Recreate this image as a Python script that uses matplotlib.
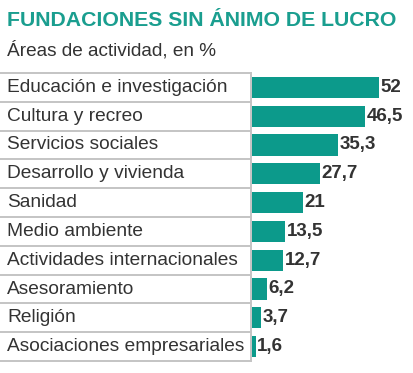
import matplotlib.pyplot as plt
from matplotlib.transforms import blended_transform_factory

categorias = ['Educación e investigación', 'Cultura y recreo', 'Servicios sociales',
              'Desarrollo y vivienda', 'Sanidad', 'Medio ambiente',
              'Actividades internacionales', 'Asesoramiento', 'Religión',
              'Asociaciones empresariales']
valores = [52, 46.5, 35.3, 27.7, 21, 13.5, 12.7, 6.2, 3.7, 1.6]
etiquetas = ['52', '46,5', '35,3', '27,7', '21', '13,5', '12,7', '6,2', '3,7', '1,6']

plt.rcParams['font.family'] = ['Liberation Sans', 'DejaVu Sans']

W, H = 414, 373
fig = plt.figure(figsize=(W / 100, H / 100), dpi=100)
ax = fig.add_axes([252 / W, (H - 361) / H, (W - 252) / W, (361 - 73) / H])

teal = '#0c9a8b'
gris = '#c4c4c4'
n = len(categorias)
y = list(range(n))

ax.barh(y, valores, height=0.73, color=teal, zorder=2)
ax.set_ylim(n - 0.5, -0.5)
ax.set_xlim(0, (W - 252) / 2.44)
ax.axis('off')

tr = blended_transform_factory(fig.transFigure, ax.transData)
for i in range(n + 1):
    ax.plot([0, 251 / W], [i - 0.5, i - 0.5], color=gris, lw=1.4,
            transform=tr, clip_on=False, zorder=1)
ax.plot([251 / W, 251 / W], [-0.5, n - 0.5], color=gris, lw=1.4,
        transform=tr, clip_on=False, zorder=1)

for i, (c, v, e) in enumerate(zip(categorias, valores, etiquetas)):
    ax.text(7 / W, i, c, transform=tr, va='center', ha='left',
            fontsize=13.8, color='#333333')
    ax.text(v + 0.6, i, e, va='center', ha='left', fontsize=13.5,
            fontweight='bold', color='#333333', clip_on=False)

fig.text(7 / W, 1 - 20 / H, 'FUNDACIONES SIN ÁNIMO DE LUCRO', fontsize=15.3,
         fontweight='bold', color='#1a9e8f', va='center', ha='left')
fig.text(7 / W, 1 - 50 / H, 'Áreas de actividad, en %', fontsize=13.7,
         color='#333333', va='center', ha='left')

fig.savefig('out.png', dpi=100)
